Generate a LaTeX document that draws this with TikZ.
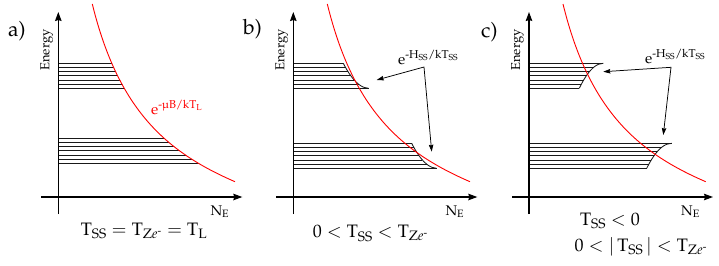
\documentclass[tikz,border=0pt]{standalone}
\usepackage[T1]{fontenc}
\usepackage{mathpazo}
\usepackage{amsmath}
\usetikzlibrary{arrows.meta}
\tikzset{
  axis/.style={line width=1.1pt, -{Stealth[length=9pt,width=6.5pt,inset=1pt]}},
  level/.style={line width=0.85pt, black!90},
  boltz/.style={red, line width=0.9pt},
  pointer/.style={line width=0.75pt, {Stealth[length=7pt,width=4.5pt,inset=0.8pt]}-{Stealth[length=7pt,width=4.5pt,inset=0.8pt]}},
  panellabel/.style={font=\fontsize{21}{25}\selectfont, anchor=base west, inner sep=0pt},
  axislabel/.style={font=\fontsize{13}{15}\selectfont, inner sep=0pt},
  nlabel/.style={font=\fontsize{14}{16}\selectfont, anchor=base west, inner sep=0pt},
  condition/.style={font=\fontsize{18}{22}\selectfont, anchor=base, inner sep=0pt},
  expo/.style={font=\fontsize{15}{18}\selectfont, anchor=base west, inner sep=0pt},
}
\newcommand{\TZe}{\mathrm{T}_{\mathrm{Z}e^{\text{-}}}}
\newcommand{\TSS}{\mathrm{T}_{\mathrm{SS}}}
\newcommand{\panelframe}[1]{%
  \coordinate (#1-ybot) at (0,214);
  \coordinate (#1-ytop) at (0,12);
  \coordinate (#1-xl) at (-17,197);
  \coordinate (#1-xr) at (184,197);
  \draw[axis] (#1-ybot) -- (#1-ytop);
  \draw[axis] (#1-xl) -- (#1-xr);
  \node[axislabel, rotate=90] (#1-energy) at (-11.5,50) {Energy};
  \node[nlabel] (#1-ne) at (152,215) {N\textsubscript{E}};
  \coordinate (#1-c0) at (34,4);
  \coordinate (#1-c1) at (176.7,181.7);
  \draw[boltz] (#1-c0) .. controls (60,110) and (108,152) .. (#1-c1);
}
\begin{document}
\begin{tikzpicture}[x=1pt,y=-1pt]
\useasboundingbox (0,0) rectangle (719,265);

% ---------------- panel a
\node[panellabel] (a-tag) at (8,36) {a)};
\begin{scope}[shift={(58.3,0)}]
  \begin{scope}
    \clip (-2,4) -- (34,4) .. controls (60,110) and (108,152) .. (176.7,181.7) -- (-2,181.7) -- cycle;
    \foreach \k in {0,...,6} {
      \draw[level] (0,{63.3+\k*25/6}) -- (200,{63.3+\k*25/6});
      \draw[level] (0,{138.3+\k*25/6}) -- (200,{138.3+\k*25/6});
    }
  \end{scope}
  \panelframe{a}
  \node[expo, text=red] (a-lab) at (92.7,114) {e\textsuperscript{-\textmu B/kT\textsubscript{L}}};
  \node[condition] (a-cond) at (85.7,235) {$\TSS = \TZe = \mathrm{T_L}$};
\end{scope}

% ---------------- panel b
\node[panellabel] (b-tag) at (243,34) {b)};
\begin{scope}[shift={(293.3,0)}]
  \foreach \k in {0,...,6} {
    \pgfmathsetmacro\yy{63.3+\k*25/6}
    \pgfmathsetmacro\xx{50+25.7*(1-sqrt(max(0,1-\k/6)))}
    \draw[level] (0,\yy) -- (\xx,\yy);
    \pgfmathsetmacro\yy{143.3+\k*25/6}
    \pgfmathsetmacro\xx{118.4+25.3*(1-sqrt(max(0,1-\k/6)))}
    \draw[level] (0,\yy) -- (\xx,\yy);
  }
  \draw[level] plot[domain=0:1, samples=30, variable=\t] ({50+25.7*(1-sqrt(max(0,1-\t)))}, {63.3+25*\t});
  \draw[level] plot[domain=0:1, samples=30, variable=\t] ({118.4+25.3*(1-sqrt(max(0,1-\t)))}, {143.3+25*\t});
  \panelframe{b}
  \node[expo] (b-lab) at (104.7,64) {e\textsuperscript{-H\textsubscript{SS}/kT\textsubscript{SS}}};
  \coordinate (b-fork) at (130.7,67);
  \coordinate (b-tip1) at (83.4,80);
  \coordinate (b-tip2) at (138.4,151.7);
  \draw[pointer] (b-tip1) -- (b-fork) -- (b-tip2);
  \node[condition] (b-cond) at (77.2,237.5) {$0 < \TSS < \TZe$};
\end{scope}

% ---------------- panel c
\node[panellabel] (c-tag) at (481,37) {c)};
\begin{scope}[shift={(529,0)}]
  \foreach \k in {0,...,6} {
    \pgfmathsetmacro\yy{63.3+\k*25/6}
    \pgfmathsetmacro\xx{50.3+24*(1-sqrt(max(0,\k/6)))}
    \draw[level] (0,\yy) -- (\xx,\yy);
    \pgfmathsetmacro\yy{143.3+\k*25/6}
    \pgfmathsetmacro\xx{117.7+25*(1-sqrt(max(0,\k/6)))}
    \draw[level] (0,\yy) -- (\xx,\yy);
  }
  \draw[level] plot[domain=0:1, samples=30, variable=\t] ({50.3+24*(1-sqrt(max(0,\t)))}, {63.3+25*\t});
  \draw[level] plot[domain=0:1, samples=30, variable=\t] ({117.7+25*(1-sqrt(max(0,\t)))}, {143.3+25*\t});
  \panelframe{c}
  \node[expo] (c-lab) at (116,63.3) {e\textsuperscript{-H\textsubscript{SS}/kT\textsubscript{SS}}};
  \coordinate (c-fork) at (142,67.3);
  \coordinate (c-tip1) at (74.3,71.7);
  \coordinate (c-tip2) at (134.3,135);
  \draw[pointer] (c-tip1) -- (c-fork) -- (c-tip2);
  \node[condition] (c-cond1) at (81,225) {$\TSS < 0$};
  \node[condition] (c-cond2) at (112,251) {$0 < |\,\TSS\,| < \TZe$};
\end{scope}
\end{tikzpicture}
\end{document}
